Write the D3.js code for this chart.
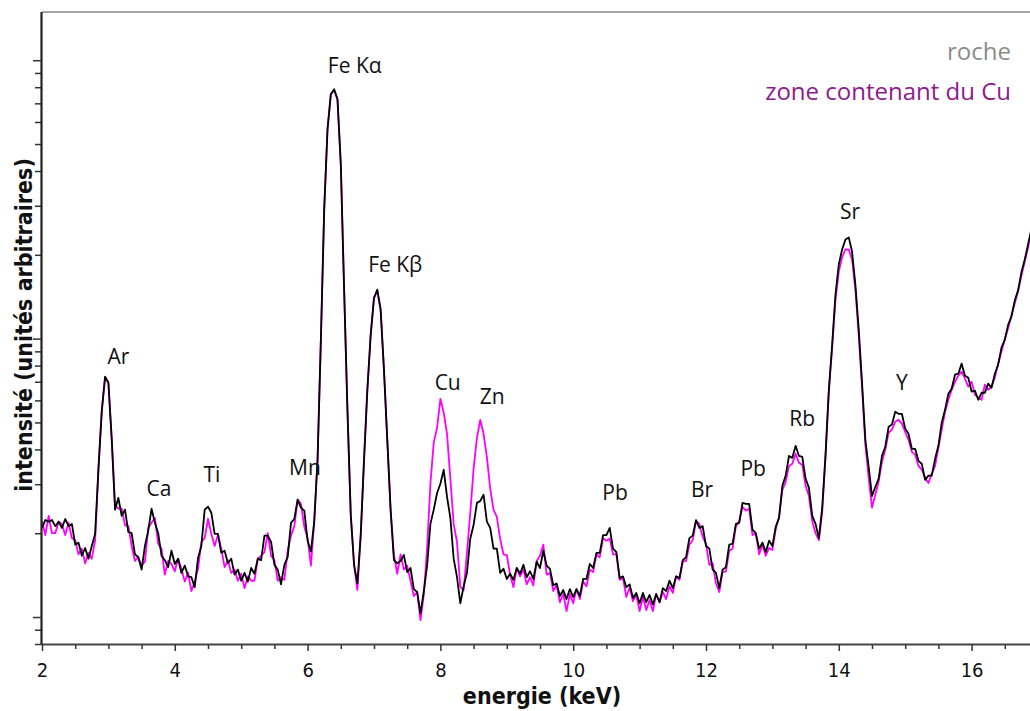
<!DOCTYPE html>
<html><head><meta charset="utf-8">
<script src="https://cdn.jsdelivr.net/npm/d3@7"></script>
<style>body{margin:0;background:#fff}svg{display:block}</style>
</head><body>
<svg id="c" width="1030" height="711"></svg>
<script>
// energies (keV) of the sampled channels
const energy = [
2.00,2.05,2.10,2.15,2.20,2.25,2.30,2.35,2.40,2.45,
2.50,2.55,2.60,2.65,2.70,2.75,2.80,2.85,2.90,2.95,
3.00,3.05,3.10,3.15,3.20,3.25,3.30,3.35,3.40,3.45,
3.50,3.55,3.60,3.65,3.70,3.75,3.80,3.85,3.90,3.95,
4.00,4.05,4.10,4.15,4.20,4.25,4.30,4.35,4.40,4.45,
4.50,4.55,4.60,4.65,4.70,4.75,4.80,4.85,4.90,4.95,
5.00,5.05,5.10,5.15,5.20,5.25,5.30,5.35,5.40,5.45,
5.50,5.55,5.60,5.65,5.70,5.75,5.80,5.85,5.90,5.95,
6.00,6.05,6.10,6.15,6.20,6.25,6.30,6.35,6.40,6.45,
6.50,6.55,6.60,6.65,6.70,6.75,6.80,6.85,6.90,6.95,
7.00,7.05,7.10,7.15,7.20,7.25,7.30,7.35,7.40,7.45,
7.50,7.55,7.60,7.65,7.70,7.75,7.80,7.85,7.90,7.95,
8.00,8.05,8.10,8.15,8.20,8.25,8.30,8.35,8.40,8.45,
8.50,8.55,8.60,8.65,8.70,8.75,8.80,8.85,8.90,8.95,
9.00,9.05,9.10,9.15,9.20,9.25,9.30,9.35,9.40,9.45,
9.50,9.55,9.60,9.65,9.70,9.75,9.80,9.85,9.90,9.95,
10.00,10.05,10.10,10.15,10.20,10.25,10.30,10.35,10.40,10.45,
10.50,10.55,10.60,10.65,10.70,10.75,10.80,10.85,10.90,10.95,
11.00,11.05,11.10,11.15,11.20,11.25,11.30,11.35,11.40,11.45,
11.50,11.55,11.60,11.65,11.70,11.75,11.80,11.85,11.90,11.95,
12.00,12.05,12.10,12.15,12.20,12.25,12.30,12.35,12.40,12.45,
12.50,12.55,12.60,12.65,12.70,12.75,12.80,12.85,12.90,12.95,
13.00,13.05,13.10,13.15,13.20,13.25,13.30,13.35,13.40,13.45,
13.50,13.55,13.60,13.65,13.70,13.75,13.80,13.85,13.90,13.95,
14.00,14.05,14.10,14.15,14.20,14.25,14.30,14.35,14.40,14.45,
14.50,14.55,14.60,14.65,14.70,14.75,14.80,14.85,14.90,14.95,
15.00,15.05,15.10,15.15,15.20,15.25,15.30,15.35,15.40,15.45,
15.50,15.55,15.60,15.65,15.70,15.75,15.80,15.85,15.90,15.95,
16.00,16.05,16.10,16.15,16.20,16.25,16.30,16.35,16.40,16.45,
16.50,16.55,16.60,16.65,16.70,16.75,16.80,16.85,16.90];

// intensity, roche (black line)
const roche = [
2.09,2.23,2.20,2.23,2.12,2.20,2.09,2.25,2.12,2.16,
1.82,1.85,1.66,1.77,1.62,1.80,1.99,3.41,5.46,7.30,
6.94,4.37,2.43,2.68,2.31,2.43,2.02,2.00,1.68,1.64,
1.48,1.80,2.04,2.45,2.18,2.00,1.66,1.60,1.51,1.73,
1.55,1.62,1.44,1.53,1.40,1.39,1.28,1.63,1.80,2.43,
2.49,2.37,1.99,1.99,1.70,1.73,1.56,1.62,1.42,1.48,
1.35,1.44,1.34,1.50,1.43,1.62,1.60,1.96,1.96,1.86,
1.54,1.48,1.31,1.54,1.64,2.18,2.25,2.64,2.47,2.41,
1.88,1.72,2.20,3.67,9.92,29.1,56.5,75.5,78.7,72.4,
42.3,15.0,5.55,2.33,1.54,1.32,1.97,3.67,6.55,10.3,
14.0,15.0,12.7,7.74,4.33,2.43,1.60,1.56,1.59,1.67,
1.45,1.50,1.26,1.23,1.03,1.24,1.53,2.16,2.43,2.79,
3.01,3.38,2.70,2.27,1.62,1.39,1.12,1.29,1.44,1.91,
2.14,2.57,2.61,2.75,2.20,2.09,1.76,1.76,1.44,1.49,
1.37,1.43,1.36,1.50,1.43,1.54,1.39,1.46,1.37,1.58,
1.50,1.73,1.53,1.49,1.30,1.32,1.19,1.25,1.16,1.26,
1.18,1.26,1.19,1.37,1.37,1.55,1.50,1.70,1.70,1.97,
1.97,2.09,1.76,1.71,1.38,1.40,1.28,1.31,1.17,1.22,
1.12,1.22,1.13,1.20,1.11,1.21,1.13,1.27,1.24,1.35,
1.27,1.40,1.38,1.60,1.64,1.92,1.96,2.23,2.09,2.12,
1.80,1.76,1.48,1.44,1.27,1.48,1.51,1.82,1.83,2.16,
2.18,2.57,2.55,2.55,2.06,2.00,1.76,1.85,1.71,1.88,
1.80,2.11,2.27,2.96,3.22,3.79,3.73,4.12,3.79,3.76,
3.14,2.91,2.31,2.16,1.92,2.47,3.83,6.55,9.52,14.4,
18.5,20.9,22.7,23.1,20.5,15.6,10.8,6.94,4.33,3.46,
2.72,2.93,3.14,3.79,4.09,4.82,4.91,5.46,5.37,5.37,
4.75,4.55,4.02,4.02,3.64,3.55,3.11,3.22,3.22,3.70,
4.12,4.99,5.55,6.34,6.61,7.42,7.48,8.13,7.36,7.24,
6.45,6.50,6.03,6.39,6.39,6.89,6.66,7.48,8.06,9.28,
9.92,11.2,12.0,13.7,14.9,17.3,19.2,21.8,24.7];

// intensity, zone contenant du Cu (magenta line)
const zoneCu = [
2.21,1.97,2.31,2.00,2.00,2.20,2.16,1.97,2.18,1.92,
1.89,1.68,1.76,1.56,1.70,1.62,1.88,3.38,5.55,7.24,
6.94,4.33,2.53,2.45,2.45,2.14,2.12,1.80,1.59,1.64,
1.53,1.58,2.09,2.18,2.27,1.83,1.76,1.42,1.59,1.55,
1.46,1.62,1.49,1.34,1.44,1.24,1.34,1.49,1.86,1.92,
2.25,1.99,1.80,1.97,1.76,1.51,1.60,1.44,1.48,1.35,
1.43,1.27,1.40,1.35,1.35,1.62,1.66,1.71,2.00,1.66,
1.60,1.35,1.39,1.36,1.73,1.96,2.12,2.64,2.55,2.11,
1.92,1.53,2.21,3.67,9.92,29.1,56.5,75.5,78.0,72.4,
42.3,15.0,5.55,2.33,1.54,1.25,1.97,3.67,6.55,10.3,
14.0,14.8,12.7,7.74,4.33,2.43,1.67,1.43,1.68,1.48,
1.53,1.35,1.19,1.23,0.975,1.20,1.77,3.03,4.23,4.79,
6.08,5.42,4.55,3.14,2.16,1.86,1.28,1.25,1.70,2.37,
3.41,4.40,5.11,4.55,3.76,2.89,2.43,2.29,1.91,1.68,
1.67,1.42,1.28,1.50,1.40,1.48,1.31,1.39,1.30,1.59,
1.66,1.82,1.42,1.44,1.24,1.30,1.13,1.21,1.05,1.21,
1.12,1.26,1.16,1.34,1.29,1.48,1.45,1.68,1.64,1.92,
1.88,1.91,1.68,1.68,1.36,1.38,1.18,1.28,1.14,1.20,
1.05,1.18,1.06,1.15,1.05,1.21,1.13,1.23,1.16,1.29,
1.22,1.40,1.36,1.58,1.59,1.82,1.89,2.21,2.16,1.94,
1.83,1.54,1.56,1.32,1.23,1.45,1.46,1.73,1.76,2.12,
2.20,2.49,2.41,2.45,1.97,2.00,1.68,1.82,1.66,1.77,
1.74,2.07,2.29,2.86,3.06,3.49,3.55,3.86,3.58,3.52,
2.96,2.72,2.21,2.00,1.89,2.38,3.75,6.45,9.28,13.8,
17.4,19.6,20.9,20.9,19.2,15.0,10.3,6.66,4.16,3.16,
2.47,2.75,3.06,3.61,3.99,4.59,4.71,5.03,5.11,4.95,
4.62,4.33,3.92,3.83,3.49,3.38,3.16,3.03,3.27,3.49,
4.05,4.71,5.46,6.03,6.55,7.00,7.36,7.61,7.18,6.72,
7.00,6.29,6.13,6.03,6.83,6.55,6.72,7.24,8.13,8.98,
9.92,10.9,12.1,13.4,14.8,16.8,18.9,21.2,24.3];

// peak annotations: name, energy (keV), intensity level of the label baseline
const peakNames  = ["Ar","Ca","Ti","Mn","Fe K\u03b1","Fe K\u03b2","Cu","Zn","Pb","Br","Pb","Rb","Sr","Y"];
const peakEnergy = [3.15,3.76,4.56,5.96,6.71,7.32,8.11,8.78,10.63,11.94,12.71,13.45,14.17,14.95];
const peakLevel  = [8.13,2.72,3.06,3.24,89.8,17.4,6.55,5.84,2.64,2.70,3.22,4.86,27.0,6.55];

const xTickLabels = [2,4,6,8,10,12,14,16];
const xMinorTicks = [2.5,3,3.5,4.5,5,5.5,6.5,7,7.5,8.5,9,9.5,10.5,11,11.5,12.5,13,13.5,14.5,15,15.5,16.5];
const yMajorTicks = [1,10,100];
const yMinorTicks = [0.8,0.9,2,3,4,5,6,7,8,9,20,30,40,50,60,70,80,90];
const seriesNames = ["roche","zone contenant du Cu"];

const W = 1030, H = 711;
const padL = 42, padT = 12, padB = 644;
const svg = d3.select("#c");
svg.append("rect").attr("width",W).attr("height",H).attr("fill","#fff");

const x = d3.scaleLinear().domain([2,17]).range([padL, padL + 15*66.4]);
const y = d3.scaleLog().domain([0.8,149]).range([padB, padT]);

svg.append("defs").append("clipPath").attr("id","plot")
  .append("rect").attr("x",padL).attr("y",padT).attr("width",W-padL).attr("height",padB-padT);

// top frame line
svg.append("line").attr("x1",padL).attr("x2",W).attr("y1",padT).attr("y2",padT)
  .attr("stroke","#8a8a8a").attr("stroke-width",1.5);

const line = d3.line().x((d,i)=>x(energy[i])).y(d=>y(d));
const g = svg.append("g").attr("clip-path","url(#plot)");
g.append("path").datum(zoneCu).attr("d",line).attr("fill","none")
  .attr("stroke","#ff00ff").attr("stroke-width",1.8).attr("stroke-linejoin","round");
g.append("path").datum(roche).attr("d",line).attr("fill","none")
  .attr("stroke","#000").attr("stroke-width",1.8).attr("stroke-linejoin","round");

// x axis
const gxMin = svg.append("g").attr("transform",`translate(0,${padB})`)
  .call(d3.axisBottom(x).tickValues(xMinorTicks).tickSize(5).tickFormat(""));
const gx = svg.append("g").attr("transform",`translate(0,${padB})`)
  .call(d3.axisBottom(x).tickValues(xTickLabels).tickSize(7).tickPadding(12).tickFormat(d3.format("d")));
gx.select(".domain").attr("d",`M${padL},0.5H${W}`).attr("stroke","#444").attr("stroke-width",2);
gxMin.select(".domain").remove();
gx.selectAll(".tick text").attr("font-family","'DejaVu Sans Condensed','DejaVu Sans',sans-serif")
  .attr("font-stretch","condensed").attr("font-size",20).attr("fill","#111");

// y axis
const gyMin = svg.append("g").attr("transform",`translate(${padL},0)`)
  .call(d3.axisLeft(y).tickValues(yMinorTicks).tickSize(7).tickFormat(""));
const gy = svg.append("g").attr("transform",`translate(${padL},0)`)
  .call(d3.axisLeft(y).tickValues(yMajorTicks).tickSize(9).tickFormat(""));
gyMin.select(".domain").remove();
gy.select(".domain").attr("d",`M-0.5,${padT}V${padB}`).attr("stroke","#222").attr("stroke-width",2.2);
svg.selectAll(".tick line").attr("stroke","#333").attr("stroke-width",1.5);

// axis titles
svg.append("text").attr("x",542).attr("y",704).attr("text-anchor","middle")
  .attr("font-family","'DejaVu Sans Condensed','DejaVu Sans',sans-serif").attr("font-stretch","condensed")
  .attr("font-weight","bold").attr("font-size",23).attr("fill","#111").text("energie (keV)");
svg.append("text").attr("transform",`translate(32,325) rotate(-90)`).attr("text-anchor","middle")
  .attr("font-family","'DejaVu Sans Condensed','DejaVu Sans',sans-serif").attr("font-stretch","condensed")
  .attr("font-weight","bold").attr("font-size",23).attr("fill","#111").text("intensité (unités arbitraires)");

// peak labels
svg.append("g").selectAll("text").data(peakNames).join("text")
  .attr("x",(d,i)=>x(peakEnergy[i])).attr("y",(d,i)=>y(peakLevel[i]))
  .attr("text-anchor","middle").attr("font-family","'Open Sans','Noto Sans',sans-serif")
  .attr("font-size",21).attr("fill","#111").text(d=>d);

// legend
const legColors = ["#8c8c8c","#8e1a8e"];
svg.append("g").selectAll("text").data(seriesNames).join("text")
  .attr("x",1011).attr("y",(d,i)=>60 + i*40).attr("text-anchor","end")
  .attr("font-family","'Open Sans','Noto Sans',sans-serif").attr("font-size",24)
  .attr("fill",(d,i)=>legColors[i]).text(d=>d);
</script>
</body></html>
